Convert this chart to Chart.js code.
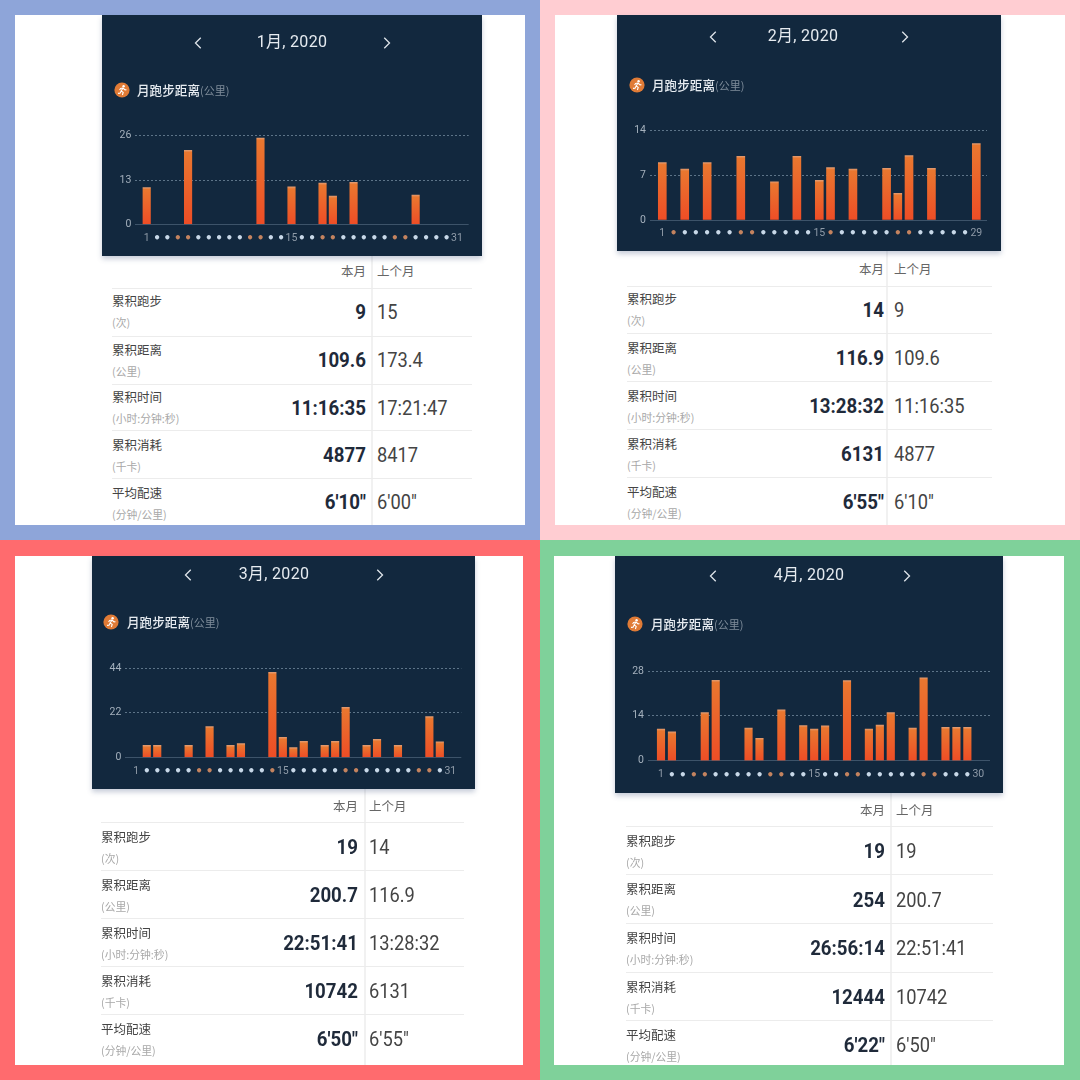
<!DOCTYPE html>
<html>
<head>
<meta charset="utf-8">
<script src="https://cdn.jsdelivr.net/npm/chart.js@4/dist/chart.umd.js"></script>
<style>
  html, body { margin: 0; padding: 0; background: #fff; }
  #page { position: relative; width: 1080px; height: 1080px; overflow: hidden; font-family: Roboto, "Noto Sans CJK SC", sans-serif; filter: blur(.35px); }
  .box { position: absolute; }
  .card { position: absolute; background: #12283e; box-shadow: 0 3px 5px rgba(70, 90, 130, .3); }
  .card canvas { position: absolute; left: 0; top: 0; }
  .txt { position: absolute; white-space: nowrap; line-height: 1; }
  .title { color: #e6ebf0; font-size: 16px; letter-spacing: .3px; }
  .metric { color: #e6ebf0; font-size: 12.6px; font-weight: 500; font-family: "Noto Sans CJK SC", sans-serif; }
  .metric small { color: #7f8d9b; font-size: 11px; font-weight: 400; }
  .head { color: #666; font-size: 12.5px; font-family: "Noto Sans CJK SC", sans-serif; }
  .name { color: #444; font-size: 12.5px; font-family: "Noto Sans CJK SC", sans-serif; }
  .unit { color: #a8a8a8; font-size: 10.8px; font-family: "Noto Sans CJK SC", sans-serif; }
  .now { color: #1f2a3a; font-size: 21px; font-weight: 700; }
  .prev { color: #444; font-size: 21px; font-weight: 400; }
</style>
</head>
<body>
<div id="page"></div>
<script>
// values
const janDays = [1, 5, 12, 15, 18, 19, 21, 27];
const janKm = [10.8, 21.7, 25.3, 11, 12.1, 8.3, 12.3, 8.6];
const janWeekend = [4, 5, 11, 12, 18, 19, 25, 26];

const febDays = [1, 3, 5, 8, 11, 13, 15, 16, 18, 21, 22, 23, 25, 29];
const febKm = [9, 8, 9, 10, 6, 10, 6.2, 8.2, 8, 8.1, 4.2, 10.1, 8.1, 12];
const febWeekend = [1, 2, 8, 9, 15, 16, 22, 23, 29];

const marDays = [2, 3, 6, 8, 10, 11, 14, 15, 16, 17, 19, 20, 21, 23, 24, 26, 29, 30];
const marKm = [5.9, 5.9, 5.9, 15.2, 5.9, 6.8, 42, 9.9, 4.8, 7.9, 5.9, 7.9, 24.7, 5.9, 8.9, 5.9, 20.1, 7.7];
const marWeekend = [1, 7, 8, 14, 15, 21, 22, 28, 29];

const aprDays = [1, 2, 5, 6, 9, 10, 12, 14, 15, 16, 18, 20, 21, 22, 24, 25, 27, 28, 29];
const aprKm = [9.9, 9, 15, 25.1, 10.2, 7, 15.9, 11, 9.9, 10.9, 25, 9.9, 11.1, 15, 10.2, 25.9, 10.4, 10.4, 10.4];
const aprWeekend = [4, 5, 11, 12, 18, 19, 25, 26];

const metricNames = ["累积跑步", "累积距离", "累积时间", "累积消耗", "平均配速"];
const metricUnits = ["(次)", "(公里)", "(小时:分钟:秒)", "(千卡)", "(分钟/公里)"];

const janNow = ["9", "109.6", "11:16:35", "4877", "6'10\""];
const janPrev = ["15", "173.4", "17:21:47", "8417", "6'00\""];
const febNow = ["14", "116.9", "13:28:32", "6131", "6'55\""];
const febPrev = ["9", "109.6", "11:16:35", "4877", "6'10\""];
const marNow = ["19", "200.7", "22:51:41", "10742", "6'50\""];
const marPrev = ["14", "116.9", "13:28:32", "6131", "6'55\""];
const aprNow = ["19", "254", "26:56:14", "12444", "6'22\""];
const aprPrev = ["19", "200.7", "22:51:41", "10742", "6'50\""];

const page = document.getElementById("page");

function addBox(left, top, width, height, color) {
  const el = document.createElement("div");
  el.className = "box";
  el.style.cssText = `left:${left}px;top:${top}px;width:${width}px;height:${height}px;background:${color}`;
  page.appendChild(el);
  return el;
}

function addText(text, x, y, cls, align) {
  const el = document.createElement("div");
  el.className = "txt " + cls;
  el.innerHTML = text;
  el.style.left = x + "px";
  el.style.top = y + "px";
  let move = "translateY(-50%)";
  if (align === "center") move = "translate(-50%,-50%)";
  if (align === "right") move = "translate(-100%,-50%)";
  if (cls === "now" || cls === "prev") {
    // no condensed Roboto installed, so squeeze the regular one
    el.style.transformOrigin = align === "right" ? "right center" : "left center";
    move = (align === "right" ? "translate(-100%,-50%) scaleX(.89)" : "translateY(-50%) scaleX(.87)");
  }
  el.style.transform = move;
  page.appendChild(el);
}

function addSvg(x, y, size, inner) {
  const el = document.createElement("div");
  el.className = "box";
  el.style.cssText = `left:${x - size / 2}px;top:${y - size / 2}px;width:${size}px;height:${size}px`;
  el.innerHTML = `<svg width="${size}" height="${size}" viewBox="0 0 16 16">${inner}</svg>`;
  page.appendChild(el);
}

function addChevron(x, y, dir) {
  const pts = dir < 0 ? "10,2 4,8 10,14" : "6,2 12,8 6,14";
  addSvg(x, y, 14, `<polyline points="${pts}" fill="none" stroke="#dfe5ea" stroke-width="1.5"/>`);
}

function addRunner(x, y) {
  addSvg(x, y, 16,
    `<circle cx="8" cy="8" r="7.6" fill="#e07b36"/>` +
    `<circle cx="9.6" cy="4.2" r="1.2" fill="#fff"/>` +
    `<path d="M9 6 L7.2 9 L9.2 10.4 L8.4 13 M7.2 9 L6 11.2 L4 11.4 M9 6 L11 8 L12.4 7.6 M9 6 L6.6 6.4 L5.6 8" fill="none" stroke="#fff" stroke-width="1.1"/>`);
}

function barColor(ctx) {
  const chart = ctx.chart;
  if (!chart.chartArea || !ctx.raw) return "#ea6029";
  const top = chart.scales.y.getPixelForValue(ctx.raw.y);
  const base = chart.scales.y.getPixelForValue(0);
  const grad = chart.ctx.createLinearGradient(0, top, 0, base);
  // the screenshots show a pale cap on every bar
  const cap = 2 / (base - top);
  grad.addColorStop(0, "#e29a6e");
  grad.addColorStop(cap, "#e9772f");
  grad.addColorStop(1, "#ee4d26");
  return grad;
}

function drawChart(card, g, month) {
  const canvas = document.createElement("canvas");
  canvas.width = card.w;
  canvas.height = card.h;
  card.el.appendChild(canvas);

  const spacing = (g.lastX - g.firstX) / (month.length - 1);
  const allDays = [];
  for (let d = 1; d <= month.length; d++) allDays.push(d);

  new Chart(canvas, {
    type: "bar",
    data: {
      datasets: [{
        data: month.days.map((d, i) => ({ x: d, y: month.km[i] })),
        backgroundColor: barColor,
        barThickness: g.bar,
        borderSkipped: false,
      }],
    },
    options: {
      responsive: false,
      animation: false,
      events: [],
      layout: {
        padding: { top: g.topY - card.y, right: card.x + card.w - g.gridRight, bottom: 0, left: 0 },
      },
      plugins: { legend: { display: false }, tooltip: { enabled: false } },
      scales: {
        x: {
          type: "linear",
          offset: false,
          min: 1 - (g.firstX - g.gridLeft) / spacing,
          max: month.length + (g.gridRight - g.lastX) / spacing,
          grid: { display: false, drawTicks: false },
          border: { display: false },
          afterBuildTicks: s => { s.ticks = allDays.map(v => ({ value: v })); },
          afterFit: s => { s.height = card.y + card.h - g.baseY; },
          ticks: {
            autoSkip: false,
            maxRotation: 0,
            padding: g.labelY - g.baseY - 6,
            font: ctx => {
              const d = allDays[ctx.index];
              return [1, 15, month.length].includes(d)
                ? { family: "Roboto", size: 10.5 }
                : { family: "DejaVu Sans", size: 12, weight: "bold" };
            },
            color: ctx => {
              const d = allDays[ctx.index];
              if ([1, 15, month.length].includes(d)) return "#8f9ba8";
              return month.weekend.includes(d) ? "#c4835f" : "#c8d8e8";
            },
            callback: v => ([1, 15, month.length].includes(v) ? String(v) : "•"),
          },
        },
        y: {
          min: 0,
          max: month.top,
          afterBuildTicks: s => { s.ticks = [0, month.top / 2, month.top].map(v => ({ value: v })); },
          afterFit: s => { s.width = g.gridLeft - card.x; },
          border: { display: false, dash: ctx => (ctx.tick && ctx.tick.value === 0 ? [] : [2, 2]) },
          grid: {
            drawTicks: false,
            color: ctx => (ctx.tick && ctx.tick.value === 0 ? "#3d5369" : "#5d7488"),
          },
          ticks: {
            padding: 4,
            color: "#a5b1bd",
            font: { family: "Roboto", size: 10.5 },
            callback: v => String(v),
          },
        },
      },
    },
  });
}

function drawPanel(p) {
  addBox(p.frame[0], p.frame[1], p.frame[2], p.frame[3], p.frameColor);
  addBox(p.white[0], p.white[1], p.white[2], p.white[3], "#fff");

  // divider between the two columns
  addBox(p.t.divider, p.card.y + p.card.h, 1.5, p.white[1] + p.white[3] - p.card.y - p.card.h, "#f1f1f1");

  const cardEl = addBox(p.card.x, p.card.y, p.card.w, p.card.h, "#12283e");
  cardEl.className = "card";
  p.card.el = cardEl;

  addText(p.title, p.titleX, p.titleY, "title", "center");
  addChevron(p.arrows[0], p.titleY, -1);
  addChevron(p.arrows[1], p.titleY, 1);
  addRunner(p.iconX, p.iconY);
  addText("月跑步距离<small>(公里)</small>", p.labelX, p.iconY, "metric");

  drawChart(p.card, p.g, p.month);

  addText("本月", p.t.right, p.t.headY, "head", "right");
  addText("上个月", p.t.left, p.t.headY, "head");
  metricNames.forEach((name, i) => {
    addBox(p.t.x0, p.t.lines[i], p.t.x1 - p.t.x0, 1, "#ececec");
    addText(name, p.t.x0, p.t.nameY[i], "name");
    addText(metricUnits[i], p.t.x0, p.t.nameY[i] + 20.5, "unit");
    addText(p.now[i], p.t.right, p.t.valueY[i], "now", "right");
    addText(p.prev[i], p.t.left, p.t.valueY[i], "prev");
  });
}

const panels = [
  {
    frame: [0, 0, 540, 540], frameColor: "#8ea5d9", white: [15, 15, 510, 510],
    card: { x: 102, y: 15, w: 380, h: 241 },
    title: "1月, 2020", titleX: 292, titleY: 42, arrows: [199, 386],
    iconX: 122, iconY: 90, labelX: 137,
    g: { gridLeft: 135.3, gridRight: 468.7, firstX: 146.7, lastX: 457, topY: 135.7, baseY: 224.3, labelY: 237.7, bar: 7.5 },
    month: { length: 31, days: janDays, km: janKm, weekend: janWeekend, top: 26 },
    t: { x0: 112, x1: 472, divider: 371, right: 366, left: 377, headY: 271,
      lines: [288, 336, 384, 430, 478], nameY: [301, 350, 397, 445, 493], valueY: [312, 360, 408, 455, 502] },
    now: janNow, prev: janPrev,
  },
  {
    frame: [540, 0, 540, 540], frameColor: "#ffcdd2", white: [555, 15, 510, 510],
    card: { x: 617, y: 15, w: 384, h: 236 },
    title: "2月, 2020", titleX: 803, titleY: 36, arrows: [714, 904],
    iconX: 637, iconY: 85, labelX: 652,
    g: { gridLeft: 650, gridRight: 987, firstX: 662.3, lastX: 976.3, topY: 130.7, baseY: 220, labelY: 233, bar: 8 },
    month: { length: 29, days: febDays, km: febKm, weekend: febWeekend, top: 14 },
    t: { x0: 627, x1: 992, divider: 886, right: 884, left: 894, headY: 269,
      lines: [286, 333, 381, 429, 477], nameY: [299, 348, 396, 444, 492], valueY: [310, 358, 406, 454, 502] },
    now: febNow, prev: febPrev,
  },
  {
    frame: [0, 540, 540, 540], frameColor: "#ff6b6e", white: [15, 556, 508, 509],
    card: { x: 92, y: 556, w: 383, h: 233 },
    title: "3月, 2020", titleX: 274, titleY: 574, arrows: [189, 379],
    iconX: 111, iconY: 622, labelX: 127,
    g: { gridLeft: 125.3, gridRight: 461.3, firstX: 136.3, lastX: 450.3, topY: 668.3, baseY: 757.3, labelY: 771, bar: 7.5 },
    month: { length: 31, days: marDays, km: marKm, weekend: marWeekend, top: 44 },
    t: { x0: 101, x1: 464, divider: 364, right: 358, left: 369, headY: 806,
      lines: [822, 870, 918, 966, 1014], nameY: [837, 885, 933, 981, 1029], valueY: [847, 895, 943, 991, 1039] },
    now: marNow, prev: marPrev,
  },
  {
    frame: [540, 540, 540, 540], frameColor: "#7fd19a", white: [554, 556, 510, 509],
    card: { x: 615, y: 556, w: 388, h: 237 },
    title: "4月, 2020", titleX: 809, titleY: 575, arrows: [714, 906],
    iconX: 635, iconY: 624, labelX: 651,
    g: { gridLeft: 648, gridRight: 990, firstX: 661, lastX: 978.3, topY: 671, baseY: 760.7, labelY: 774.3, bar: 7.5 },
    month: { length: 30, days: aprDays, km: aprKm, weekend: aprWeekend, top: 28 },
    t: { x0: 626, x1: 993, divider: 890, right: 885, left: 896, headY: 810,
      lines: [826, 874, 923, 972, 1020], nameY: [841, 889, 938, 987, 1035], valueY: [851, 900, 948, 997, 1045] },
    now: aprNow, prev: aprPrev,
  },
];

for (const p of panels) {
  drawPanel(p);
}
</script>
</body>
</html>
